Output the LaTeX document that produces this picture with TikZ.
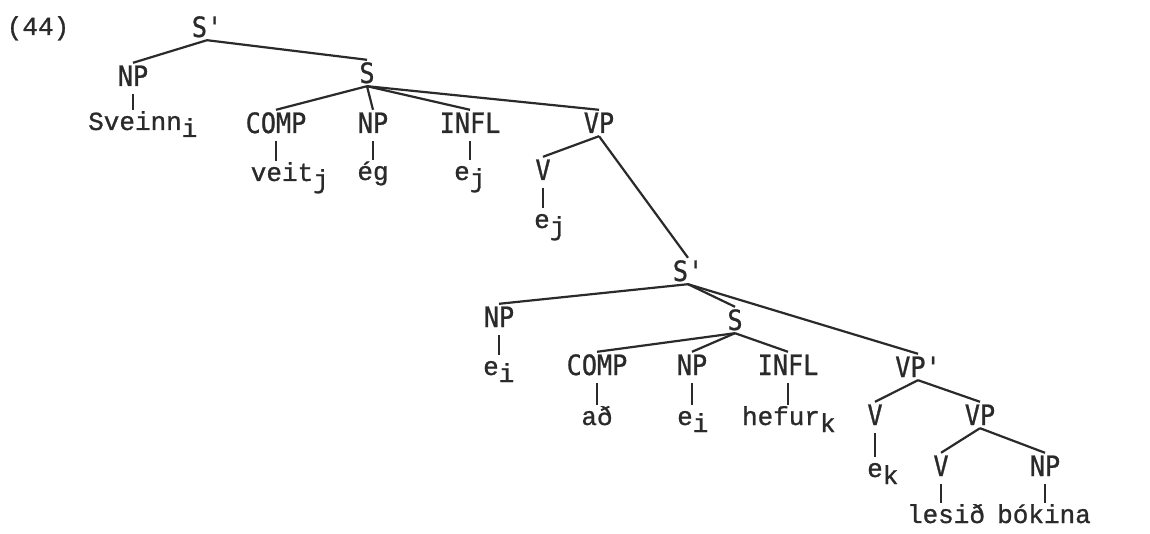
\documentclass[tikz,border=0pt]{standalone}
\usepackage{fontspec}
\setmonofont{DejaVu Sans Mono}[FakeStretch=0.9,FakeBold=0.8]
\newfontfamily\wordfont{Liberation Mono}[FakeBold=1.0]
\definecolor{ink}{HTML}{2A2A2A}
\newcommand\sbs[1]{\rlap{\raisebox{-7pt}{#1}}}
\begin{document}
\begin{tikzpicture}[x=1pt,y=-1pt,
  lab/.style={font=\ttfamily\fontsize{28}{30}\selectfont, text=ink, inner xsep=0pt, inner ysep=3pt, text height=20pt, text depth=0pt, anchor=center},
  wd/.style={font=\wordfont\fontsize{26}{30}\selectfont, text=ink, inner sep=0pt, text height=15pt, text depth=0pt, anchor=base},
  br/.style={line width=2.2pt, draw=ink},
  tk/.style={br, shorten <=5pt, shorten >=5pt}]
\fill[white] (0,0) rectangle (1150,534);
\useasboundingbox (0,0) rectangle (1150,534);
% example number
\node[wd] (num) at (38,35) {(44)};
% labels
\node[lab] (sp1) at (207,27) {S'};
\node[lab] (np1) at (133,76) {NP};
\node[lab] (s1) at (367,73) {S};
\node[lab] (comp1) at (276,123) {COMP};
\node[lab] (np2) at (373,123) {NP};
\node[lab] (infl1) at (470,123) {INFL};
\node[lab] (vp1) at (599,123) {VP};
\node[lab] (v1) at (543,170) {V};
\node[lab] (sp2) at (688,271) {S'};
\node[lab] (np3) at (499,317) {NP};
\node[lab] (s2) at (735,320) {S};
\node[lab] (comp2) at (597,365) {COMP};
\node[lab] (np4) at (692,365) {NP};
\node[lab] (infl2) at (788,365) {INFL};
\node[lab] (vpp) at (918,367) {VP'};
\node[lab] (v2) at (875,415) {V};
\node[lab] (vp2) at (980,415) {VP};
\node[lab] (v3) at (941,466) {V};
\node[lab] (np5) at (1045,466) {NP};
% words
\node[wd] (w1) at (135,130) {Sveinn\sbs{i}};
\node[wd] (w2) at (282,181) {veit\sbs{j}};
\node[wd] (w3) at (373,180) {ég};
\node[wd] (w4) at (462,180) {e\sbs{j}};
\node[wd] (w5) at (542,228) {e\sbs{j}};
\node[wd] (w6) at (491,375) {e\sbs{i}};
\node[wd] (w7) at (597,425) {að};
\node[wd] (w8) at (685,425) {e\sbs{i}};
\node[wd] (w9) at (781,425) {hefur\sbs{k}};
\node[wd] (w10) at (875,477) {e\sbs{k}};
\node[wd] (w11) at (946,523) {lesið};
\node[wd] (w12) at (1044,523) {bókina};
% branches
\draw[br] (sp1.south) -- (np1.north);
\draw[br] (sp1.south) -- (s1.north);
\draw[br] (s1.south) -- (comp1.north);
\draw[br] (s1.south) -- (np2.north);
\draw[br] (s1.south) -- (infl1.north);
\draw[br] (s1.south) -- (vp1.north);
\draw[br] (vp1.south) -- (v1.north);
\draw[br] (vp1.south) -- (sp2.north);
\draw[br] (sp2.south) -- (np3.north);
\draw[br] (sp2.south) -- (s2.north);
\draw[br] (sp2.south) -- (vpp.north);
\draw[br] (s2.south) -- (comp2.north);
\draw[br] (s2.south) -- (np4.north);
\draw[br] (s2.south) -- (infl2.north);
\draw[br] (vpp.south) -- (v2.north);
\draw[br] (vpp.south) -- (vp2.north);
\draw[br] (vp2.south) -- (v3.north);
\draw[br] (vp2.south) -- (np5.north);
% ticks
\draw[tk] (np1.south) -- (np1.south |- w1.north);
\draw[tk] (comp1.south) -- (comp1.south |- w2.north);
\draw[tk] (np2.south) -- (np2.south |- w3.north);
\draw[tk] (infl1.south) -- (infl1.south |- w4.north);
\draw[tk] (v1.south) -- (v1.south |- w5.north);
\draw[tk] (np3.south) -- (np3.south |- w6.north);
\draw[tk] (comp2.south) -- (comp2.south |- w7.north);
\draw[tk] (np4.south) -- (np4.south |- w8.north);
\draw[tk] (infl2.south) -- (infl2.south |- w9.north);
\draw[tk] (v2.south) -- (v2.south |- w10.north);
\draw[tk] (v3.south) -- (v3.south |- w11.north);
\draw[tk] (np5.south) -- (np5.south |- w12.north);
\end{tikzpicture}
\end{document}
